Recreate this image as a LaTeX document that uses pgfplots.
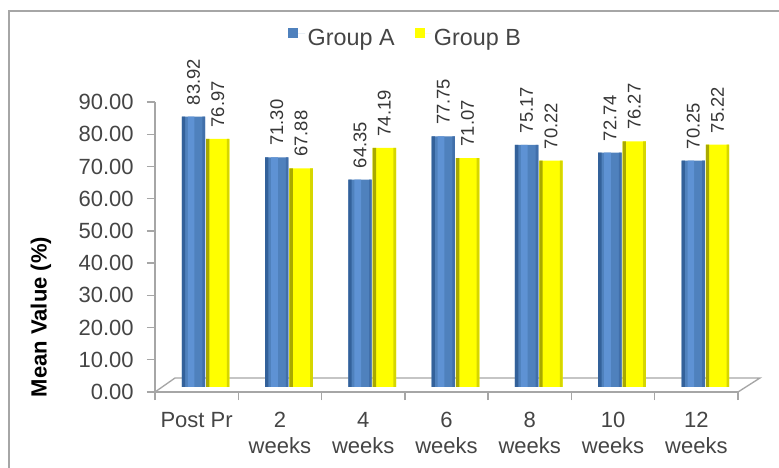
\documentclass[border=0pt]{standalone}
\usepackage{pgfplots}
\pgfplotsset{compat=1.18}
\usepackage{fontspec}
\setmainfont{Liberation Sans}

\definecolor{barblue}{HTML}{4F81BD}
\definecolor{blueedge}{HTML}{33619A}
\definecolor{bluelight}{HTML}{5E92D4}
\definecolor{blueright}{HTML}{416FAA}
\definecolor{baryellow}{HTML}{FFFF00}
\definecolor{yellowedge}{HTML}{A9A900}
\definecolor{yellowright}{HTML}{D6D600}
\definecolor{axisgray}{HTML}{A6A6A6}
\definecolor{textgray}{HTML}{454545}
\definecolor{labelgray}{HTML}{363636}

\pgfplotsset{
    /pgf/number format/assume math mode=true,
    % narrow shaded strip laid over a bar to give it a rounded look
    strip/.style n args={3}{forget plot, draw=none, fill=#1,
        bar width=#2, bar shift=#3, xshift=6.75pt, yshift=3.75pt},
}

% time points
\pgfplotstableread{
x  A      B
0  83.92  76.97
1  71.30  67.88
2  64.35  74.19
3  77.75  71.07
4  75.17  70.22
5  72.74  76.27
6  70.25  75.22
}\meanvals

\begin{document}
\begin{tikzpicture}[x=0.75pt,y=0.75pt]
\useasboundingbox (0,0) rectangle (779,468);
\fill[white] (0,0) rectangle (779,468);
\draw[axisgray, line width=1.5pt] (9,0) -- (9,457) -- (779,457);

\begin{axis}[
    at={(116.25pt,57pt)}, anchor=south west,
    scale only axis,
    width=437.25pt, height=217.5pt,
    xmin=-0.5, xmax=6.5,
    ymin=0, ymax=90,
    axis x line=bottom, axis y line=left,
    axis line style={draw=axisgray, line width=1pt, -},
    clip=false,
    tick align=outside,
    major tick length=6pt,
    tick style={draw=axisgray, line width=1pt},
    ytick={0,10,...,90},
    y tick label style={
        /pgf/number format/fixed,
        /pgf/number format/fixed zerofill,
        /pgf/number format/precision=2,
        xshift=-6.5pt,
        font=\fontsize{16.5}{19.5}\selectfont, text=textgray},
    xtick={-0.5,0.5,...,6.5},
    xticklabels={},
    extra x ticks={0,1,...,6},
    extra x tick labels={Post Pr,2\\weeks,4\\weeks,6\\weeks,8\\weeks,10\\weeks,12\\weeks},
    extra x tick style={major tick length=0pt,
        tick label style={align=center, anchor=north, yshift=-11.5pt,
            font=\fontsize{16.5}{19.5}\selectfont, text=textgray}},
    ylabel={Mean Value (\%)},
    ylabel style={at={(axis description cs:-0.1955,0.2586)}, anchor=center,
        font=\bfseries\fontsize{16.5}{19.5}\selectfont},
    ybar,
    legend style={at={(axis description cs:0.4305,1.2207)}, anchor=center,
        draw=none, fill=none, legend columns=2,
        font=\fontsize{17.5}{20}\selectfont, text=textgray,
        /tikz/every even column/.append style={column sep=13pt}},
]

% floor of the 3D plot
\draw[axisgray, line width=1pt] (rel axis cs:0,0) -- (rel axis cs:0.0343,0.0483)
    -- (rel axis cs:1.0377,0.0483) -- (rel axis cs:1,0);

\addplot[draw=none, fill=barblue, bar width=17.5pt, bar shift=-9.125pt,
    xshift=6.75pt, yshift=3.75pt,
    nodes near coords={\pgfmathprintnumber[fixed,fixed zerofill,precision=2]{\pgfplotspointmeta}},
    nodes near coords style={rotate=90, anchor=west, inner xsep=8.5pt, inner ysep=0pt,
        font=\fontsize{13.8}{15}\selectfont, text=labelgray},
    legend image code/.code={\fill[barblue] (0pt,-3.75pt) rectangle (7.5pt,3.75pt);
        \path (0pt,0pt) -- (12.5pt,0pt);}]
    table[x=x, y=A] {\meanvals};
\addlegendentry{Group A}

\addplot[draw=none, fill=baryellow, bar width=17.5pt, bar shift=9.125pt,
    xshift=6.75pt, yshift=3.75pt,
    nodes near coords={\pgfmathprintnumber[fixed,fixed zerofill,precision=2]{\pgfplotspointmeta}},
    nodes near coords style={rotate=90, anchor=west, inner xsep=8.5pt, inner ysep=0pt,
        font=\fontsize{13.8}{15}\selectfont, text=labelgray},
    legend image code/.code={\fill[baryellow] (0pt,-3.75pt) rectangle (7.5pt,3.75pt);
        \path (0pt,0pt) -- (12.5pt,0pt);}]
    table[x=x, y=B] {\meanvals};
\addlegendentry{Group B}

% cylinder shading
\addplot[strip={blueedge}{2.5pt}{-16.625pt}] table[x=x, y=A] {\meanvals};
\addplot[strip={bluelight}{5pt}{-10.875pt}] table[x=x, y=A] {\meanvals};
\addplot[strip={blueright}{2pt}{-1.375pt}] table[x=x, y=A] {\meanvals};
\addplot[strip={yellowedge}{2.5pt}{1.625pt}] table[x=x, y=B] {\meanvals};
\addplot[strip={yellowright}{2pt}{16.875pt}] table[x=x, y=B] {\meanvals};

\end{axis}
\end{tikzpicture}
\end{document}
